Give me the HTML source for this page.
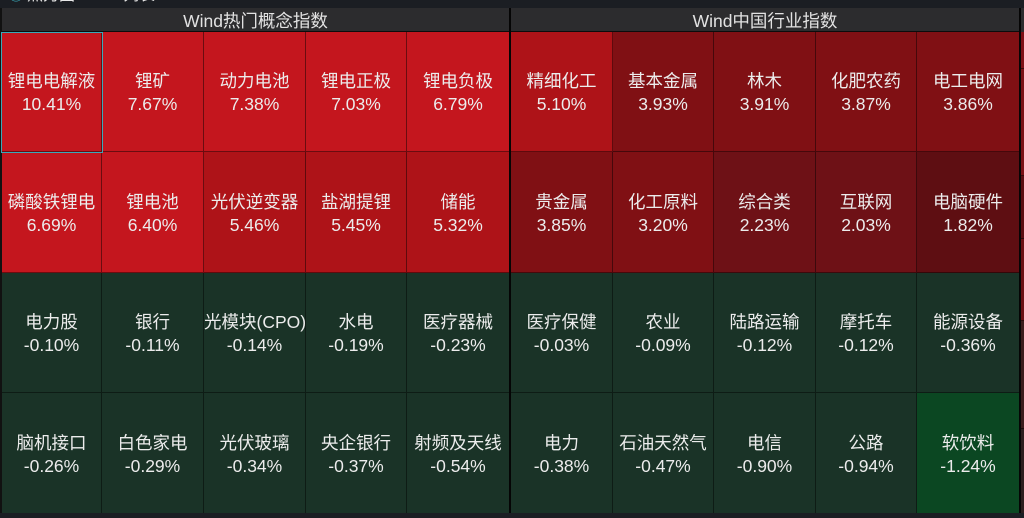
<!DOCTYPE html>
<html><head><meta charset="utf-8">
<style>
html,body{margin:0;padding:0;}
body{width:1024px;height:518px;background:#1b1e23;position:relative;overflow:hidden;font-family:"Liberation Sans","Noto Sans CJK SC",sans-serif;}
.top{position:absolute;left:0;top:0;width:1024px;height:8px;background:#1b1e23;overflow:hidden;}
.top span{position:absolute;top:-12px;font-size:16px;line-height:16px;color:#e8e8e8;white-space:nowrap;}
.hdr{position:absolute;top:8px;height:21px;padding-top:2px;background:#2c2c2e;border-bottom:1px solid #0c0c0c;color:#e2e2e2;font-size:17.5px;line-height:23px;text-align:center;}
.c{position:absolute;box-sizing:border-box;padding-top:3px;border-right:1px solid rgba(0,0,0,0.45);border-bottom:1px solid rgba(0,0,0,0.45);color:#ececec;font-size:17.5px;line-height:23px;text-align:center;display:flex;flex-direction:column;justify-content:center;white-space:nowrap;}
.r1{background:#c4161e;}
.r2{background:#ae1318;}
.r3{background:#801014;}
.r4{background:#6e1116;}
.r5{background:#5e0e12;}
.g1{background:#1a3327;}
.g2{background:#0b4722;}
</style></head><body>
<div class="top">
  <span style="left:8px;color:#3aa8b8;">◉</span>
  <span style="left:27px;">热力图</span>
  <span style="left:104px;color:#888;">○</span>
  <span style="left:123px;">列表</span>
</div>
<div style="position:absolute;left:0;top:8px;width:2px;height:510px;background:#111;"></div>
<div class="hdr" style="left:2px;width:507px;">Wind热门概念指数</div>
<div style="position:absolute;left:509px;top:8px;width:2px;height:505px;background:#050505;"></div>
<div class="hdr" style="left:511px;width:508px;">Wind中国行业指数</div>
<div style="position:absolute;left:1019px;top:8px;width:2px;height:505px;background:#050505;"></div>
<div style="position:absolute;left:1021px;top:8px;width:3px;height:24px;background:#2c2c2e;"></div>
<div style="position:absolute;left:1021px;top:32px;width:3px;height:36px;background:#7d1016;border-bottom:1px solid #3a0a0a;"></div>
<div style="position:absolute;left:1021px;top:69px;width:3px;height:106px;background:#7a1015;border-bottom:1px solid #3a0a0a;"></div>
<div style="position:absolute;left:1021px;top:176px;width:3px;height:62px;background:#5a0d11;border-bottom:1px solid #2a0a0a;"></div>
<div style="position:absolute;left:1021px;top:239px;width:3px;height:81px;background:#6a0f13;border-bottom:1px solid #2a0a0a;"></div>
<div style="position:absolute;left:1021px;top:321px;width:3px;height:107px;background:#3a1c1c;border-bottom:1px solid #1a0a0a;"></div>
<div style="position:absolute;left:1021px;top:429px;width:3px;height:84px;background:#2c1e1e;"></div>

<!-- Left section -->
<div class="c r1" style="left:2px;top:32px;width:100px;height:120px;"><div>锂电电解液</div><div>10.41%</div></div>
<div class="c r1" style="left:102px;top:32px;width:102px;height:120px;"><div>锂矿</div><div>7.67%</div></div>
<div class="c r1" style="left:204px;top:32px;width:102px;height:120px;"><div>动力电池</div><div>7.38%</div></div>
<div class="c r1" style="left:306px;top:32px;width:101px;height:120px;"><div>锂电正极</div><div>7.03%</div></div>
<div class="c r1" style="left:407px;top:32px;width:102px;height:120px;border-right:none;"><div>锂电负极</div><div>6.79%</div></div>

<div class="c r1" style="left:2px;top:152px;width:100px;height:121px;"><div>磷酸铁锂电</div><div>6.69%</div></div>
<div class="c r1" style="left:102px;top:152px;width:102px;height:121px;"><div>锂电池</div><div>6.40%</div></div>
<div class="c r2" style="left:204px;top:152px;width:102px;height:121px;"><div>光伏逆变器</div><div>5.46%</div></div>
<div class="c r2" style="left:306px;top:152px;width:101px;height:121px;"><div>盐湖提锂</div><div>5.45%</div></div>
<div class="c r2" style="left:407px;top:152px;width:102px;height:121px;border-right:none;"><div>储能</div><div>5.32%</div></div>

<div class="c g1" style="left:2px;top:273px;width:100px;height:120px;"><div>电力股</div><div>-0.10%</div></div>
<div class="c g1" style="left:102px;top:273px;width:102px;height:120px;"><div>银行</div><div>-0.11%</div></div>
<div class="c g1" style="left:204px;top:273px;width:102px;height:120px;"><div>光模块(CPO)</div><div>-0.14%</div></div>
<div class="c g1" style="left:306px;top:273px;width:101px;height:120px;"><div>水电</div><div>-0.19%</div></div>
<div class="c g1" style="left:407px;top:273px;width:102px;height:120px;border-right:none;"><div>医疗器械</div><div>-0.23%</div></div>

<div class="c g1" style="left:2px;top:393px;width:100px;height:120px;border-bottom:none;"><div>脑机接口</div><div>-0.26%</div></div>
<div class="c g1" style="left:102px;top:393px;width:102px;height:120px;border-bottom:none;"><div>白色家电</div><div>-0.29%</div></div>
<div class="c g1" style="left:204px;top:393px;width:102px;height:120px;border-bottom:none;"><div>光伏玻璃</div><div>-0.34%</div></div>
<div class="c g1" style="left:306px;top:393px;width:101px;height:120px;border-bottom:none;"><div>央企银行</div><div>-0.37%</div></div>
<div class="c g1" style="left:407px;top:393px;width:102px;height:120px;border-right:none;border-bottom:none;"><div>射频及天线</div><div>-0.54%</div></div>

<!-- Right section -->
<div class="c r2" style="left:511px;top:32px;width:102px;height:120px;"><div>精细化工</div><div>5.10%</div></div>
<div class="c r3" style="left:613px;top:32px;width:101px;height:120px;"><div>基本金属</div><div>3.93%</div></div>
<div class="c r3" style="left:714px;top:32px;width:102px;height:120px;"><div>林木</div><div>3.91%</div></div>
<div class="c r3" style="left:816px;top:32px;width:101px;height:120px;"><div>化肥农药</div><div>3.87%</div></div>
<div class="c r3" style="left:917px;top:32px;width:102px;height:120px;border-right:none;"><div>电工电网</div><div>3.86%</div></div>

<div class="c r3" style="left:511px;top:152px;width:102px;height:121px;"><div>贵金属</div><div>3.85%</div></div>
<div class="c r3" style="left:613px;top:152px;width:101px;height:121px;"><div>化工原料</div><div>3.20%</div></div>
<div class="c r4" style="left:714px;top:152px;width:102px;height:121px;"><div>综合类</div><div>2.23%</div></div>
<div class="c r4" style="left:816px;top:152px;width:101px;height:121px;"><div>互联网</div><div>2.03%</div></div>
<div class="c r5" style="left:917px;top:152px;width:102px;height:121px;border-right:none;"><div>电脑硬件</div><div>1.82%</div></div>

<div class="c g1" style="left:511px;top:273px;width:102px;height:120px;"><div>医疗保健</div><div>-0.03%</div></div>
<div class="c g1" style="left:613px;top:273px;width:101px;height:120px;"><div>农业</div><div>-0.09%</div></div>
<div class="c g1" style="left:714px;top:273px;width:102px;height:120px;"><div>陆路运输</div><div>-0.12%</div></div>
<div class="c g1" style="left:816px;top:273px;width:101px;height:120px;"><div>摩托车</div><div>-0.12%</div></div>
<div class="c g1" style="left:917px;top:273px;width:102px;height:120px;border-right:none;"><div>能源设备</div><div>-0.36%</div></div>

<div class="c g1" style="left:511px;top:393px;width:102px;height:120px;border-bottom:none;"><div>电力</div><div>-0.38%</div></div>
<div class="c g1" style="left:613px;top:393px;width:101px;height:120px;border-bottom:none;"><div>石油天然气</div><div>-0.47%</div></div>
<div class="c g1" style="left:714px;top:393px;width:102px;height:120px;border-bottom:none;"><div>电信</div><div>-0.90%</div></div>
<div class="c g1" style="left:816px;top:393px;width:101px;height:120px;border-bottom:none;"><div>公路</div><div>-0.94%</div></div>
<div class="c g2" style="left:917px;top:393px;width:102px;height:120px;border-right:none;border-bottom:none;"><div>软饮料</div><div>-1.24%</div></div>

<!-- selected cell outline -->
<div style="position:absolute;left:1px;top:32px;width:100px;height:119px;border:1px solid #3aa8b8;"></div>
<div style="position:absolute;left:0;top:513px;width:1024px;height:5px;background:#1b1e23;"></div>
</body></html>
